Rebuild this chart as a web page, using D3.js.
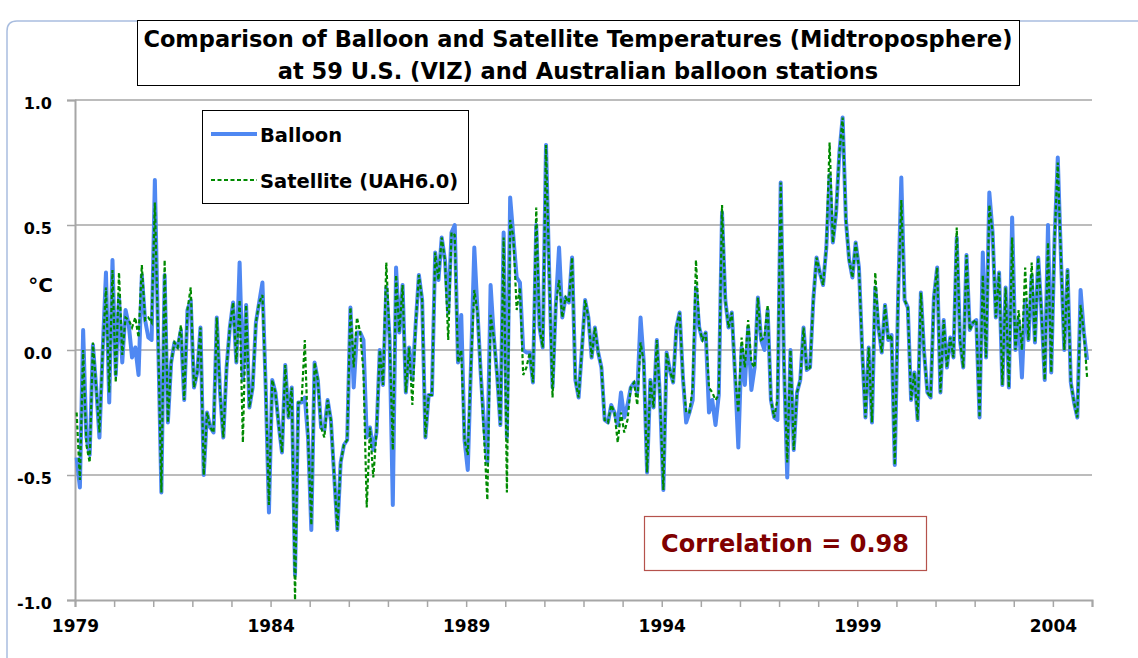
<!DOCTYPE html>
<html>
<head>
<meta charset="utf-8">
<script src="https://cdn.jsdelivr.net/npm/d3@7"></script>
<style>
  body { margin: 0; background: #fff; }
  text { font-family: "DejaVu Sans", Verdana, sans-serif; font-weight: bold; }
</style>
</head>
<body>
<svg id="chart" width="1138" height="658"></svg>
<script>
// monthly anomalies (deg C), starting January 1979, one row per year
const startYear = 1979;
const balloon = [
  -0.43,-0.55,0.08,-0.35,-0.42,0.02,-0.15,-0.35,0.00,0.31,-0.21,0.36,
  -0.10,0.21,-0.05,0.16,0.10,-0.03,0.01,-0.10,0.30,0.12,0.05,0.04,
  0.68,0.05,-0.57,0.30,-0.29,-0.05,0.03,0.01,0.08,-0.20,0.16,0.20,
  -0.15,-0.09,0.09,-0.50,-0.25,-0.31,-0.33,0.13,-0.17,-0.35,-0.07,0.09,
  0.19,-0.05,0.35,-0.12,0.18,-0.23,-0.15,0.11,0.19,0.27,-0.15,-0.65,
  -0.12,-0.17,-0.30,-0.41,-0.06,-0.27,-0.15,-0.90,-0.21,-0.21,-0.19,-0.35,
  -0.72,-0.05,-0.12,-0.31,-0.32,-0.20,-0.28,-0.50,-0.72,-0.45,-0.38,-0.36,
  0.17,-0.15,0.07,0.07,0.04,-0.35,-0.31,-0.40,-0.33,0.00,-0.14,0.25,
  0.05,-0.62,0.33,0.07,0.26,-0.17,0.01,-0.12,0.10,0.30,0.20,-0.35,
  -0.18,-0.18,0.39,0.28,0.45,0.36,0.15,0.47,0.50,-0.05,0.14,-0.36,
  -0.48,-0.05,0.41,0.15,-0.10,-0.30,-0.45,0.26,0.05,-0.10,-0.30,0.47,
  -0.35,0.61,0.45,0.29,0.27,0.00,-0.01,-0.01,-0.13,0.50,0.09,0.01,
  0.82,0.30,-0.15,0.18,0.41,0.13,0.21,0.19,0.37,-0.12,-0.19,0.00,
  0.20,0.13,-0.03,0.09,-0.01,-0.07,-0.28,-0.29,-0.22,-0.25,-0.30,-0.17,
  -0.27,-0.22,-0.15,-0.13,-0.17,0.13,-0.05,-0.49,-0.12,-0.23,0.04,-0.20,
  -0.56,-0.01,-0.08,-0.13,0.09,0.15,-0.11,-0.29,-0.25,-0.20,0.25,0.09,
  0.04,0.07,-0.25,-0.20,-0.30,-0.18,0.55,0.20,0.09,0.15,-0.10,-0.39,
  0.01,-0.14,0.09,-0.16,-0.07,0.21,0.04,0.00,0.16,-0.20,-0.27,-0.28,
  0.67,-0.05,-0.51,0.00,-0.40,-0.17,-0.12,0.09,-0.08,-0.07,0.20,0.37,
  0.31,0.26,0.41,0.70,0.43,0.55,0.79,0.93,0.52,0.36,0.29,0.43,
  0.33,0.00,-0.27,0.01,-0.29,0.25,0.09,-0.01,0.18,0.04,0.06,-0.46,
  0.20,0.69,0.20,0.17,-0.20,-0.09,-0.28,0.23,-0.01,-0.17,-0.19,0.21,
  0.33,-0.17,0.12,-0.07,0.05,-0.03,0.45,0.04,-0.07,0.38,0.08,0.11,
  0.12,-0.27,0.39,-0.03,0.63,0.47,0.13,0.31,-0.14,0.25,-0.15,0.53,
  0.00,0.12,-0.11,0.20,0.04,0.30,0.03,0.37,0.15,-0.12,0.50,-0.09,
  0.44,0.77,0.36,0.00,0.32,-0.13,-0.21,-0.27,0.24,0.07,-0.04
];
const satellite = [
  -0.25,-0.52,0.00,-0.38,-0.45,0.03,-0.15,-0.33,0.00,0.25,-0.17,0.32,
  -0.13,0.31,-0.02,0.13,0.12,0.09,0.13,0.05,0.34,0.12,0.13,0.11,
  0.59,0.05,-0.57,0.36,-0.29,-0.05,0.03,0.01,0.10,-0.20,0.16,0.25,
  -0.15,-0.09,0.09,-0.50,-0.25,-0.31,-0.33,0.13,-0.17,-0.35,-0.07,0.09,
  0.19,-0.05,0.20,-0.37,0.18,-0.23,-0.15,0.11,0.19,0.22,-0.15,-0.62,
  -0.12,-0.17,-0.30,-0.41,-0.06,-0.27,-0.15,-1.00,-0.21,-0.21,0.04,-0.35,
  -0.70,-0.05,-0.12,-0.31,-0.35,-0.20,-0.28,-0.50,-0.72,-0.45,-0.38,-0.36,
  0.17,-0.07,0.13,0.07,-0.09,-0.63,-0.31,-0.51,-0.33,0.00,-0.14,0.35,
  0.05,-0.40,0.30,0.07,0.26,-0.17,0.01,-0.22,0.10,0.30,0.20,-0.35,
  -0.18,-0.18,0.39,0.28,0.45,0.36,0.04,0.47,0.46,-0.05,0.00,-0.36,
  -0.42,-0.05,0.24,0.15,-0.10,-0.35,-0.60,0.14,0.05,-0.10,-0.30,0.45,
  -0.57,0.52,0.45,0.16,0.25,-0.10,-0.07,-0.01,-0.13,0.57,0.09,0.01,
  0.82,0.30,-0.19,0.18,0.28,0.13,0.21,0.19,0.37,-0.12,-0.19,0.00,
  0.20,0.13,-0.03,0.09,-0.01,-0.07,-0.28,-0.29,-0.22,-0.25,-0.37,-0.25,
  -0.33,-0.28,-0.15,-0.13,-0.22,0.03,-0.05,-0.49,-0.12,-0.23,0.04,-0.20,
  -0.56,-0.01,-0.08,-0.13,0.09,0.15,-0.11,-0.25,-0.25,-0.15,0.36,0.09,
  0.04,0.07,-0.15,-0.17,-0.20,-0.18,0.58,0.20,0.09,0.15,-0.10,-0.25,
  0.05,-0.07,0.12,-0.05,-0.07,0.21,0.04,0.05,0.18,-0.20,-0.27,-0.20,
  0.67,-0.05,-0.45,0.00,-0.40,-0.17,-0.12,0.09,-0.08,-0.07,0.20,0.37,
  0.31,0.26,0.41,0.83,0.43,0.55,0.79,0.93,0.52,0.36,0.29,0.43,
  0.33,0.00,-0.27,0.01,-0.29,0.31,0.09,-0.01,0.18,0.04,0.06,-0.46,
  0.20,0.60,0.20,0.17,-0.20,-0.09,-0.28,0.23,-0.01,-0.17,-0.19,0.21,
  0.33,-0.17,0.12,-0.07,0.05,-0.03,0.49,0.04,-0.07,0.38,0.08,0.11,
  0.12,-0.27,0.30,-0.03,0.58,0.47,0.13,0.31,-0.14,0.25,-0.15,0.45,
  0.00,0.16,0.00,0.33,0.04,0.35,0.03,0.37,0.15,-0.12,0.43,-0.09,
  0.44,0.75,0.36,0.00,0.32,-0.13,-0.21,-0.27,0.18,0.07,-0.11
];

const yTicks = [-1, -0.5, 0, 0.5, 1];
const yearTicks = d3.range(1979, 2006);
const labelYears = [1979, 1984, 1989, 1994, 1999, 2004];
const titleLines = [
  'Comparison of Balloon and Satellite Temperatures (Midtroposphere)',
  'at 59 U.S. (VIZ) and Australian balloon stations'
];
const legendNames = ['Balloon', 'Satellite (UAH6.0)'];
const correlationText = 'Correlation = 0.98';

const svg = d3.select('#chart');
const plotLeft = 75, plotRight = 1092, plotTop = 100, plotBottom = 600;

const x = d3.scaleLinear().domain([1979, 2005]).range([plotLeft, plotRight]);
const y = d3.scaleLinear().domain([-1, 1]).range([plotBottom, plotTop]);

// month index -> decimal year (mid month)
const monthX = i => x(startYear + (i + 0.5) / 12);

// outer chart frame (partly cut off in the source)
svg.append('path')
  .attr('d', 'M7,658 L7,31 Q7,21 17,21 L1138,21')
  .attr('fill', 'none')
  .attr('stroke', '#a9bddf')
  .attr('stroke-width', 1.5);

// gridlines
svg.append('g')
  .selectAll('line')
  .data(yTicks.filter(d => d > -1))
  .enter()
  .append('line')
  .attr('x1', plotLeft)
  .attr('x2', plotRight)
  .attr('y1', d => y(d))
  .attr('y2', d => y(d))
  .attr('stroke', '#a6a6a6')
  .attr('stroke-width', 1.5);

// y axis
const yAxis = svg.append('g')
  .attr('transform', `translate(${plotLeft},0)`)
  .call(d3.axisLeft(y).tickValues(yTicks).tickSize(8).tickPadding(15)
    .tickFormat(d => d.toFixed(1)));
yAxis.select('.domain').attr('stroke', '#a6a6a6').attr('stroke-width', 2);
yAxis.selectAll('.tick line').attr('stroke', '#a6a6a6').attr('stroke-width', 1.5);
yAxis.selectAll('.tick text')
  .attr('font-size', 16)
  .attr('dy', '0.55em')
  .attr('font-family', '"DejaVu Sans", sans-serif')
  .attr('font-weight', 'bold')
  .attr('fill', '#000');

// x axis
const xAxis = svg.append('g')
  .attr('transform', `translate(0,${plotBottom})`)
  .call(d3.axisBottom(x).tickValues(yearTicks).tickSize(7).tickPadding(13)
    .tickFormat(d => labelYears.includes(d) ? String(d) : ''));
xAxis.select('.domain').attr('stroke', '#a6a6a6').attr('stroke-width', 2);
xAxis.selectAll('.tick line').attr('stroke', '#a6a6a6').attr('stroke-width', 1.5);
xAxis.selectAll('.tick text')
  .attr('font-size', 17)
  .attr('font-family', '"DejaVu Sans", sans-serif')
  .attr('font-weight', 'bold')
  .attr('fill', '#000');

// unit label
svg.append('text')
  .attr('x', 53)
  .attr('y', 292)
  .attr('text-anchor', 'end')
  .attr('font-size', 20)
  .text('°C');

// series
const line = d3.line()
  .x((d, i) => monthX(i))
  .y(d => y(d));

svg.append('path')
  .datum(balloon)
  .attr('d', line)
  .attr('fill', 'none')
  .attr('stroke', '#4f88f2')
  .attr('stroke-width', 4)
  .attr('stroke-linejoin', 'round');

svg.append('path')
  .datum(satellite)
  .attr('d', line)
  .attr('fill', 'none')
  .attr('stroke', '#008a00')
  .attr('stroke-width', 2.2)
  .attr('stroke-dasharray', '4,2.5');

// title box
svg.append('rect')
  .attr('x', 137.5).attr('y', 20.5)
  .attr('width', 882).attr('height', 65)
  .attr('fill', '#fff')
  .attr('stroke', '#000')
  .attr('stroke-width', 1);

svg.append('g')
  .selectAll('text')
  .data(titleLines)
  .enter()
  .append('text')
  .attr('x', 578)
  .attr('y', (d, i) => 47 + i * 32)
  .attr('text-anchor', 'middle')
  .attr('font-size', 22.5)
  .text(d => d);

// legend
const legend = svg.append('g');
legend.append('rect')
  .attr('x', 202.5).attr('y', 110.5)
  .attr('width', 266).attr('height', 93)
  .attr('fill', '#fff')
  .attr('stroke', '#000')
  .attr('stroke-width', 1);

legend.append('line')
  .attr('x1', 211).attr('x2', 257)
  .attr('y1', 134).attr('y2', 134)
  .attr('stroke', '#4f88f2').attr('stroke-width', 4);
legend.append('line')
  .attr('x1', 211).attr('x2', 257)
  .attr('y1', 180).attr('y2', 180)
  .attr('stroke', '#008a00').attr('stroke-width', 2.2)
  .attr('stroke-dasharray', '4,2.5');

legend.selectAll('text')
  .data(legendNames)
  .enter()
  .append('text')
  .attr('x', 260)
  .attr('y', (d, i) => 142 + i * 46)
  .attr('font-size', 19.5)
  .text(d => d);

// correlation box
svg.append('rect')
  .attr('x', 644.5).attr('y', 516.5)
  .attr('width', 282).attr('height', 54)
  .attr('fill', '#fff')
  .attr('stroke', '#b5524c')
  .attr('stroke-width', 1.2);

svg.append('text')
  .attr('x', 785)
  .attr('y', 552)
  .attr('text-anchor', 'middle')
  .attr('font-size', 24)
  .attr('fill', '#7f0000')
  .text(correlationText);
</script>
</body>
</html>
